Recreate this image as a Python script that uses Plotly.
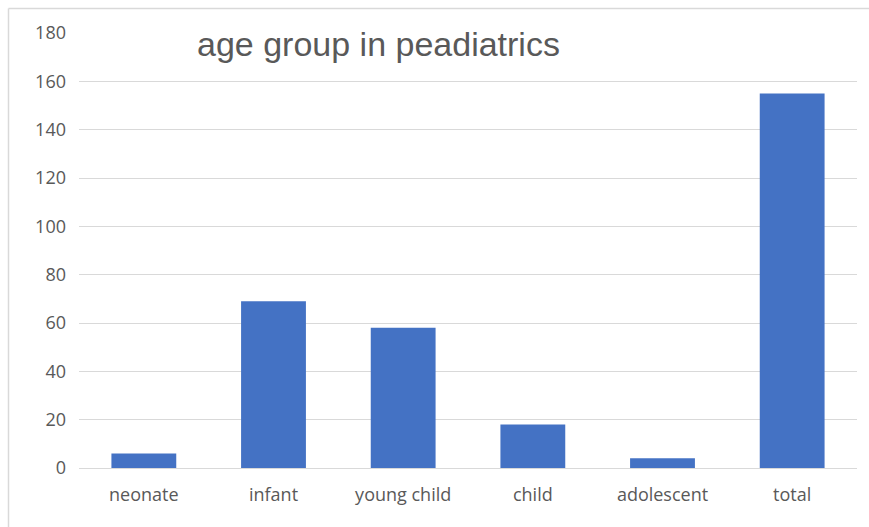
import plotly.graph_objects as go

# Patient counts per paediatric age group
categories = ["neonate", "infant", "young child", "child", "adolescent", "total"]
counts = [6, 69, 58, 18, 4, 155]
y_ticks = [0, 20, 40, 60, 80, 100, 120, 140, 160, 180]

W, H = 869, 527
L, R, T, B = 79, 12, 33, 59
plot_w = W - L - R
plot_h = H - T - B


def px_x(x):
    return (x - L) / plot_w


def px_y(y):
    return (H - B - y) / plot_h


fig = go.Figure(
    go.Bar(
        x=categories,
        y=counts,
        marker=dict(color="#4472C4", line=dict(width=0)),
    )
)

fig.update_layout(
    width=W,
    height=H,
    margin=dict(l=L, r=R, t=T, b=B, pad=0),
    paper_bgcolor="white",
    plot_bgcolor="white",
    bargap=0.5,
    showlegend=False,
    font=dict(family="Open Sans", size=18, color="#595959"),
    xaxis=dict(
        showgrid=False,
        showline=False,
        ticks="",
        ticklabelstandoff=14,
        tickfont=dict(family="Open Sans", size=18, color="#595959"),
    ),
    yaxis=dict(
        range=[0, 180],
        tickvals=y_ticks,
        showgrid=True,
        gridcolor="#d9d9d9",
        gridwidth=1,
        zeroline=True,
        zerolinecolor="#d9d9d9",
        zerolinewidth=1,
        showline=False,
        ticks="",
        ticklabelstandoff=12,
        tickfont=dict(family="Open Sans", size=18, color="#595959"),
    ),
    shapes=[
        # white band behind the title
        dict(type="rect", xref="paper", yref="paper",
             x0=px_x(177), x1=px_x(578), y0=px_y(68), y1=px_y(18),
             fillcolor="white", line=dict(width=0), layer="above"),
        # outer frame (top and left edges)
        dict(type="line", xref="paper", yref="paper",
             x0=px_x(8.5), x1=px_x(W + 5), y0=px_y(8.5), y1=px_y(8.5),
             line=dict(color="#d9d9d9", width=1.5)),
        dict(type="line", xref="paper", yref="paper",
             x0=px_x(8.5), x1=px_x(8.5), y0=px_y(8.5), y1=px_y(H + 5),
             line=dict(color="#d9d9d9", width=1.5)),
    ],
    annotations=[
        dict(text="age group in peadiatrics", xref="paper", yref="paper",
             x=px_x(378), y=px_y(44), xanchor="center", yanchor="middle",
             showarrow=False,
             font=dict(family="Liberation Sans", size=34, color="#595959")),
    ],
)

fig.write_html("out.html")
